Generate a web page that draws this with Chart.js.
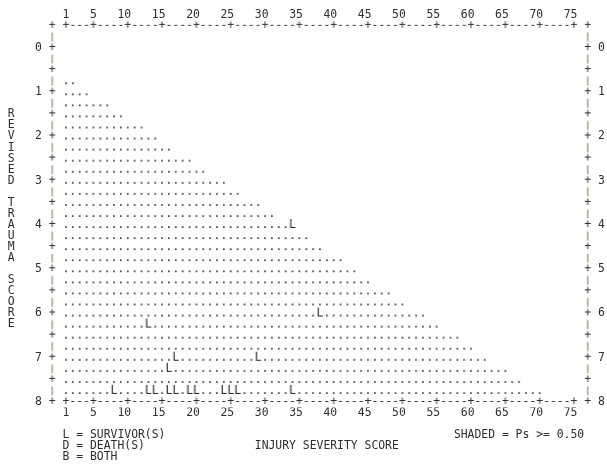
<!DOCTYPE html>
<html>
<head>
<meta charset="utf-8">
<script src="https://cdn.jsdelivr.net/npm/chart.js@4.4.1/dist/chart.umd.min.js"></script>
<style>
  html, body { margin: 0; background: #ffffff; }
  #wrap { width: 607px; height: 466px; }
</style>
</head>
<body>
<div id="wrap"><canvas id="plot"></canvas></div>
<script>
// Tick labels
const issTicks = [1, 5, 10, 15, 20, 25, 30, 35, 40, 45, 50, 55, 60, 65, 70, 75];
const rtsTicks = [0, 1, 2, 3, 4, 5, 6, 7, 8];

// Shaded region (Ps >= 0.50): for each RTS row, the last ISS column that is shaded
const rtsRows = [0.75, 1, 1.25, 1.5, 1.75, 2, 2.25, 2.5, 2.75, 3, 3.25, 3.5, 3.75, 4, 4.25,
  4.5, 4.75, 5, 5.25, 5.5, 5.75, 6, 6.25, 6.5, 6.75, 7, 7.25, 7.5, 7.75];
const shadedToISS = [2, 4, 7, 9, 12, 14, 16, 19, 21, 24, 26, 29, 31, 34, 36,
  38, 41, 43, 45, 48, 50, 53, 55, 58, 60, 62, 65, 67, 70];

// Survivors (L)
const survivorISS = [34, 38, 13, 17, 29, 16, 8, 13, 14, 16, 17, 19, 20, 24, 25, 26, 34];
const survivorRTS = [4, 6, 6.25, 7, 7, 7.25, 7.75, 7.75, 7.75, 7.75, 7.75, 7.75, 7.75, 7.75, 7.75, 7.75, 7.75];

const yTitle = "REVISED TRAUMA SCORE";
const notes = [
  { text: "L = SURVIVOR(S)", col: 1, row: 8.75 },
  { text: "D = DEATH(S)", col: 1, row: 9 },
  { text: "B = BOTH", col: 1, row: 9.25 },
  { text: "INJURY SEVERITY SCORE", col: 29, row: 9 },
  { text: "SHADED = Ps >= 0.50", col: 58, row: 8.75 }
];

const INK = "#2e2e2e";
const FRAME_BAR = "#7f6e45";
const MONO = '"DejaVu Sans Mono", "Liberation Mono", monospace';
const FONT_PX = 11.4;
const monoFont = { family: MONO, size: FONT_PX, lineHeight: 1 };

// one printer character drawn as a point image
function glyph(ch, color, clipH) {
  const c = document.createElement("canvas");
  c.width = 12;
  c.height = 16;
  const g = c.getContext("2d");
  if (clipH) {
    g.beginPath();
    g.rect(0, 8 - clipH / 2, 12, clipH);
    g.clip();
  }
  g.font = FONT_PX + "px " + MONO;
  g.fillStyle = color || INK;
  g.textAlign = "center";
  g.textBaseline = "middle";
  g.fillText(ch, 6, 8);
  return c;
}

// shaded dots, skipping cells that hold an L
const taken = new Set(survivorISS.map((v, i) => v + ":" + survivorRTS[i]));
const dots = [];
rtsRows.forEach((r, i) => {
  for (let c = 1; c <= shadedToISS[i]; c++) {
    if (!taken.has(c + ":" + r)) dots.push({ x: c, y: r });
  }
});
const survivors = survivorISS.map((v, i) => ({ x: v, y: survivorRTS[i] }));

// ascii frame
const plus = [], dash = [], bar = [];
[-0.5, 8].forEach(r => {
  for (let c = 1; c <= 75; c++) {
    (issTicks.includes(c) ? plus : dash).push({ x: c, y: r });
  }
});
[-1, 77].forEach(c => {
  for (let k = -2; k <= 32; k++) {
    const r = k / 4;
    (k % 2 === 0 ? plus : bar).push({ x: c, y: r });
  }
});

function layer(data, img) {
  return {
    data: data,
    pointStyle: img,
    pointRadius: 3,
    clip: false
  };
}

const textPlugin = {
  id: "asciiText",
  afterDraw(chart) {
    const { ctx, scales: { x, y } } = chart;
    const half = (x.getPixelForValue(1) - x.getPixelForValue(0)) / 2;
    ctx.save();
    ctx.font = FONT_PX + "px " + MONO;
    ctx.fillStyle = INK;
    ctx.textBaseline = "middle";
    ctx.textAlign = "left";
    yTitle.split("").forEach((ch, i) => {
      if (ch !== " ") ctx.fillText(ch, x.getPixelForValue(-7) - half, y.getPixelForValue(1.5 + i * 0.25));
    });
    notes.forEach(n => {
      ctx.fillText(n.text, x.getPixelForValue(n.col) - half, y.getPixelForValue(n.row));
    });
    ctx.restore();
  }
};

const xAxis = (pos, h) => ({
  type: "linear",
  position: pos,
  min: -1.5,
  max: 77.5,
  afterBuildTicks: s => { s.ticks = issTicks.map(v => ({ value: v })); },
  afterFit: s => { s.height = h; },
  grid: { display: false, drawTicks: false },
  border: { display: false },
  ticks: { autoSkip: false, maxRotation: 0, align: "end", labelOffset: 3.43, padding: 0, color: INK, font: monoFont }
});
const yAxis = (pos, w, pad) => ({
  type: "linear",
  position: pos,
  reverse: true,
  min: -0.625,
  max: 8.125,
  afterBuildTicks: s => { s.ticks = rtsTicks.map(v => ({ value: v })); },
  afterFit: s => { s.width = w; },
  grid: { display: false, drawTicks: false },
  border: { display: false },
  ticks: { autoSkip: false, padding: pad, color: INK, font: monoFont }
});

new Chart(document.getElementById("plot"), {
  type: "scatter",
  data: {
    datasets: [
      layer(dots, glyph(".", "#141414")),
      layer(survivors, glyph("L", "#1e1e1e")),
      layer(plus, glyph("+")),
      layer(dash, glyph("-")),
      layer(bar, glyph("|", FRAME_BAR, 9))
    ]
  },
  options: {
    responsive: true,
    maintainAspectRatio: false,
    animation: false,
    events: [],
    layout: { padding: 0 },
    plugins: { legend: { display: false }, tooltip: { enabled: false } },
    scales: {
      x: xAxis("bottom", 58.5),
      x2: xAxis("top", 20.34),
      y: yAxis("left", 48.84, 7.1),
      y2: yAxis("right", 15.8, 6.8)
    }
  },
  plugins: [textPlugin]
});
</script>
</body>
</html>
